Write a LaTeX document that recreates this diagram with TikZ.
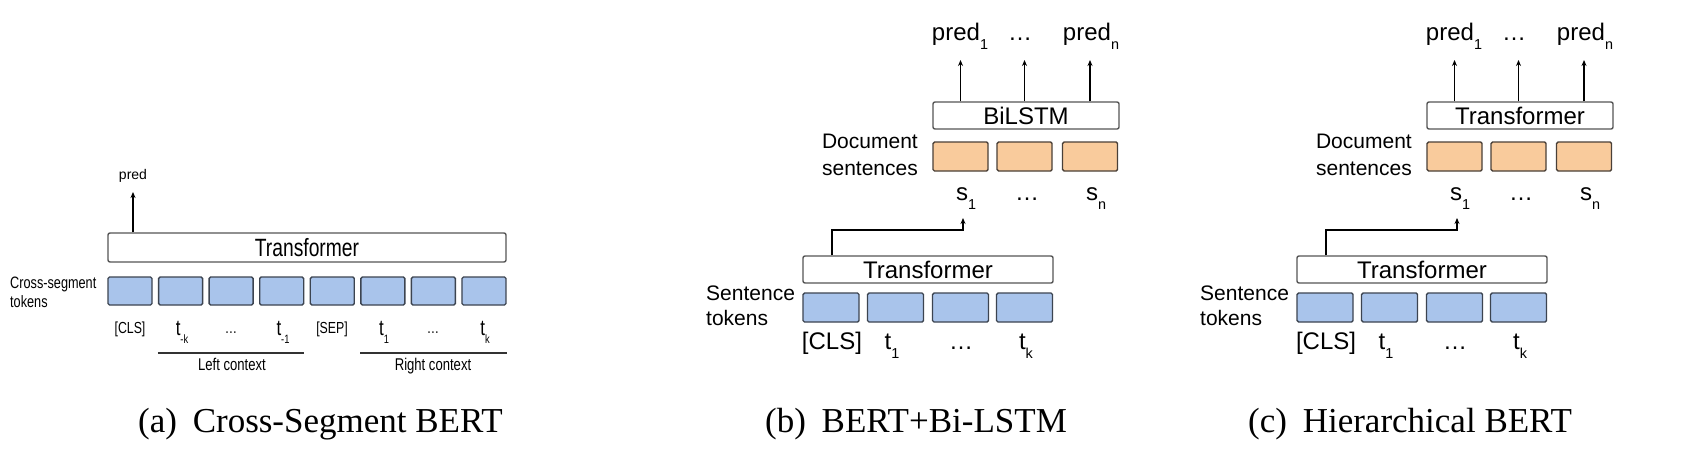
\documentclass[tikz,border=0pt]{standalone}
\usepackage{fontspec}
\setmainfont{Liberation Sans}
\newfontfamily\capfont{Liberation Serif}
\usetikzlibrary{arrows.meta}
\definecolor{tokblue}{HTML}{A9C4EB}
\definecolor{docorange}{HTML}{F9CB9C}
\definecolor{boxedge}{HTML}{555555}
\definecolor{tokedge}{HTML}{3C4450}
\definecolor{docedge}{HTML}{4A4038}
\newcommand\fs[1]{\fontsize{#1}{#1}\selectfont}
\newcommand\sqz[1]{\scalebox{0.77}[1]{#1}}
\newcommand\lo[2][0.6]{\raisebox{-0.4em}{\scalebox{#1}{#2}}}
\newcommand\panelbc[3]{%
\begin{scope}[xshift=#2]
\node[tbox, minimum width=186pt, minimum height=27pt] (#1top) at (1026,115.5) {\fs{24}#3};
\node[doc] (#1d1) at (960.5,156.5) {};
\node[doc] (#1d2) at (1024.5,156.5) {};
\node[doc] (#1d3) at (1090,156.5) {};
\node[lab] (#1p1) at (960,40) {\fs{24}pred\lo{1}};
\node[lab] (#1pd) at (1020,40) {\fs{24}…};
\node[lab] (#1pn) at (1091,40) {\fs{24}pred\lo{n}};
\coordinate (#1q1) at (960.5,60);
\coordinate (#1q2) at (1024.5,60);
\coordinate (#1q3) at (1090,60);
\draw[arr] (#1top.north -| #1q1) -- (#1q1);
\draw[arr] (#1top.north -| #1q2) -- (#1q2);
\draw[arr] (#1top.north -| #1q3) -- (#1q3);
\node[anchor=east, align=left, inner sep=0pt, font=\fontsize{21}{27}\selectfont] (#1ds) at (918,155) {Document\\sentences};
\node[lab] (#1s1) at (966,200) {\fs{24}s\lo{1}};
\node[lab] (#1sd) at (1027,200) {\fs{24}…};
\node[lab] (#1sn) at (1096,200) {\fs{24}s\lo{n}};
\node[tbox, minimum width=250pt, minimum height=27pt] (#1tr) at (928,269.5) {\fs{24}Transformer};
\node[tok, minimum width=56pt, minimum height=29pt] (#1b1) at (831,307.5) {};
\node[tok, minimum width=56pt, minimum height=29pt] (#1b2) at (895.5,307.5) {};
\node[tok, minimum width=56pt, minimum height=29pt] (#1b3) at (960.5,307.5) {};
\node[tok, minimum width=56pt, minimum height=29pt] (#1b4) at (1024.5,307.5) {};
\node[anchor=west, align=left, inner sep=0pt, font=\fontsize{21}{25}\selectfont] (#1st) at (706,306) {Sentence\\tokens};
\node[lab] (#1c1) at (832,349) {\fs{24}[CLS]};
\node[lab] (#1c2) at (892,349) {\fs{24}t\lo{1}};
\node[lab] (#1c3) at (961,349) {\fs{24}…};
\node[lab] (#1c4) at (1026,349) {\fs{24}t\lo{k}};
\coordinate (#1bend) at (832,230);
\coordinate (#1tip) at (963,218);
\draw[arr] (#1tr.north -| #1bend) -- (#1bend) -| (#1tip);
\end{scope}}
\begin{document}
\begin{tikzpicture}[x=1pt,y=-1pt,
  tbox/.style={draw=boxedge, line width=1.4pt, fill=white, rounded corners=2pt, inner sep=0pt},
  tok/.style={draw=tokedge, line width=1.4pt, fill=tokblue, rounded corners=1.5pt, inner sep=0pt, minimum height=28pt, minimum width=44pt},
  doc/.style={tok, fill=docorange, draw=docedge, minimum height=29pt, minimum width=55pt},
  lab/.style={inner sep=0pt, anchor=base},
  arr/.style={draw=black, line width=1.3pt, -{Stealth[length=6pt,width=5pt]}},
  ctx/.style={draw=black!80, line width=1.1pt},
  captxt/.style={anchor=base west, inner sep=0pt, font=\capfont\fontsize{35}{40}\selectfont}]
\fill[white] (0,0) rectangle (1686,450);
\useasboundingbox (0,0) rectangle (1686,450);
% ---------- panel (a)
\node[tbox, minimum width=398pt, minimum height=29pt] (aT) at (307,247.5) {\fs{25}\sqz{Transformer}};
\foreach \i in {0,...,7}{\node[tok] (a\i) at ({130+50.57*\i},291) {};}
\node[lab] (aP) at (133,179) {\fs{14}pred};
\coordinate (aPt) at (133,192);
\draw[arr] (aT.north -| aPt) -- (aPt);
\node[anchor=west, align=left, inner sep=0pt, font=\fontsize{16.5}{19}\selectfont] (aCS) at (10,292) {\sqz{Cross-segment}\\\sqz{tokens}};
\node[lab] (aL0) at (130,333) {\fs{16}\sqz{[CLS]}};
\node[lab] (aL1) at (182,335) {\fs{22}\sqz{t\lo[0.55]{-k}}};
\node[lab] (aL2) at (231,333) {\fs{16}\sqz{…}};
\node[lab] (aL3) at (283,335) {\fs{22}\sqz{t\lo[0.55]{-1}}};
\node[lab] (aL4) at (332,333) {\fs{16}\sqz{[SEP]}};
\node[lab] (aL5) at (384,335) {\fs{22}\sqz{t\lo[0.55]{1}}};
\node[lab] (aL6) at (433,333) {\fs{16}\sqz{…}};
\node[lab] (aL7) at (485,335) {\fs{22}\sqz{t\lo[0.55]{k}}};
\coordinate (ctxY) at (0,353);
\draw[ctx] (a1.west |- ctxY) -- (a3.east |- ctxY);
\draw[ctx] (a5.west |- ctxY) -- (a7.east |- ctxY);
\node[lab] (aLC) at (232,370) {\fs{17}\sqz{Left context}};
\node[lab] (aRC) at (433,370) {\fs{17}\sqz{Right context}};
% ---------- panels (b) and (c)
\panelbc{b}{0}{BiLSTM}
\panelbc{c}{494}{Transformer}
% ---------- captions
\node[captxt] (capA) at (138,432) {(a)\hspace{0.45em}Cross-Segment BERT};
\node[captxt] (capB) at (765,432) {(b)\hspace{0.45em}BERT+Bi-LSTM};
\node[captxt] (capC) at (1248,432) {(c)\hspace{0.45em}Hierarchical BERT};
\end{tikzpicture}
\end{document}
